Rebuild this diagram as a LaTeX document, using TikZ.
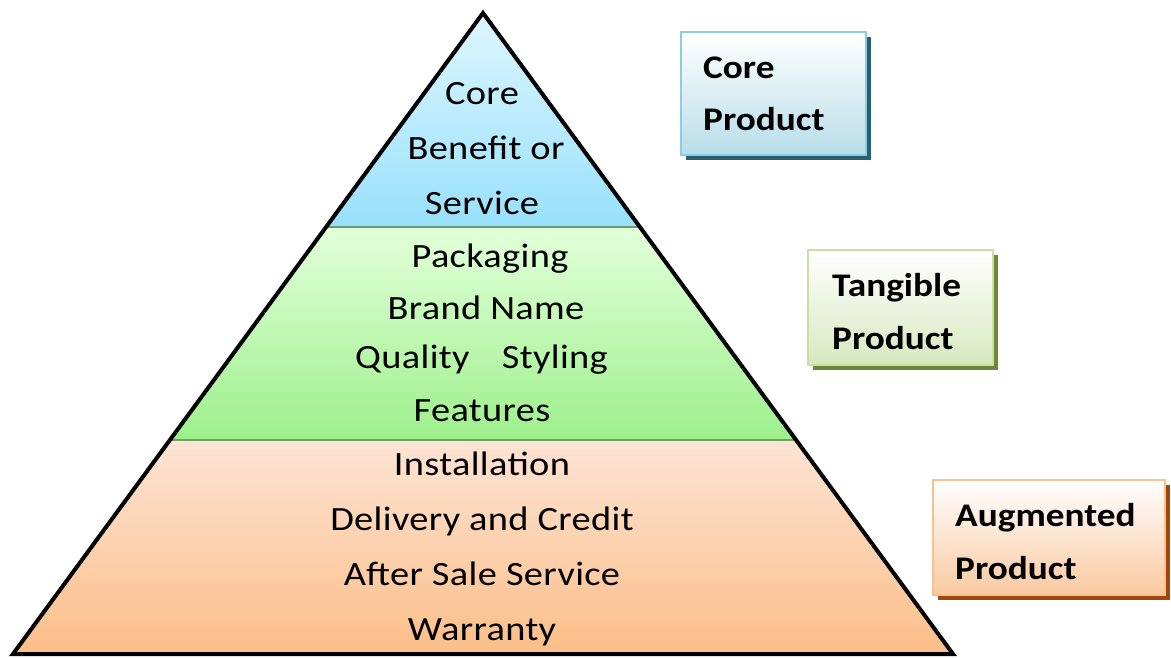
\documentclass[tikz,border=0pt]{standalone}
\usepackage{fontspec}
\setmainfont{Carlito}
\newfontfamily\tierfont[FakeStretch=1.13,LetterSpace=1]{Carlito}
\newfontfamily\boxfont[FakeStretch=1.13]{Carlito}
% tier and box colours
\definecolor{coretop}{RGB}{222,246,255}
\definecolor{corebot}{RGB}{152,224,251}
\definecolor{tantop}{RGB}{226,255,218}
\definecolor{tanbot}{RGB}{158,240,140}
\definecolor{augtop}{RGB}{253,228,212}
\definecolor{augbot}{RGB}{251,190,136}
\definecolor{sepone}{RGB}{110,150,120}
\definecolor{septwo}{RGB}{110,160,100}
\definecolor{coreshadow}{RGB}{40,95,110}
\definecolor{corefill}{RGB}{184,221,232}
\definecolor{coreedge}{RGB}{140,205,224}
\definecolor{tanshadow}{RGB}{110,135,60}
\definecolor{tanfill}{RGB}{215,232,192}
\definecolor{tanedge}{RGB}{200,224,160}
\definecolor{augshadow}{RGB}{160,72,12}
\definecolor{augfill}{RGB}{249,201,160}
\definecolor{augedge}{RGB}{249,192,144}
\begin{document}
\begin{tikzpicture}[x=1pt,y=-1pt,
  tiertext/.style={font=\tierfont\fontsize{34}{40}\selectfont, text=black, inner sep=0pt, anchor=base},
  boxtext/.style={font=\boxfont\fontsize{33}{38}\selectfont\bfseries, text=black, inner sep=0pt, anchor=base west},
  tierline/.style={line width=1.2pt}]
\useasboundingbox (0,0) rectangle (1171,657);
% pyramid corners and band boundaries
\coordinate (apex) at (483,13);
\coordinate (bl) at (13,654);
\coordinate (br) at (953,654);
\coordinate (c1l) at (326.1,227);
\coordinate (c1r) at (639.9,227);
\coordinate (c2l) at (169.9,440);
\coordinate (c2r) at (796.1,440);
% tier fills
\shade[top color=coretop, bottom color=corebot] (apex) -- (c1r) -- (c1l) -- cycle;
\shade[top color=tantop, bottom color=tanbot] (c1l) -- (c1r) -- (c2r) -- (c2l) -- cycle;
\shade[top color=augtop, bottom color=augbot] (c2l) -- (c2r) -- (br) -- (bl) -- cycle;
\draw[tierline, draw=sepone] (c1l) -- (c1r);
\draw[tierline, draw=septwo] (c2l) -- (c2r);
\draw[line width=4pt, line join=miter] (apex) -- (br) -- (bl) -- cycle;
% tier texts
\node[tiertext] (t1) at (482,104) {Core};
\node[tiertext] (t2) at (486,159) {Benefit or};
\node[tiertext] (t3) at (482,214) {Service};
\node[tiertext] (t4) at (490,267) {Packaging};
\node[tiertext] (t5) at (486,319) {Brand Name};
\node[tiertext, anchor=base west] (t6a) at (355,368) {Quality};
\node[tiertext, anchor=base east] (t6b) at (608,368) {Styling};
\node[tiertext] (t7) at (482,421) {Features};
\node[tiertext] (t8) at (482,475) {Installation};
\node[tiertext] (t9) at (482,530) {Delivery and Credit};
\node[tiertext] (t10) at (482,585) {After Sale Service};
\node[tiertext] (t11) at (482,640) {Warranty};
% label boxes with drop shadows
\fill[coreshadow] (686,37) rectangle (871,160);
\shade[top color=white, bottom color=corefill, draw=coreedge, line width=1.5pt] (681,32) rectangle (866,155);
\node[boxtext] (core1) at (703,78) {Core};
\node[boxtext] (core2) at (703,130) {Product};
\fill[tanshadow] (813,255) rectangle (998,370);
\shade[top color=white, bottom color=tanfill, draw=tanedge, line width=1.5pt] (808,250) rectangle (993,365);
\node[boxtext] (tan1) at (832,296) {Tangible};
\node[boxtext] (tan2) at (832,349) {Product};
\fill[augshadow] (938,485) rectangle (1170,600);
\shade[top color=white, bottom color=augfill, draw=augedge, line width=1.5pt] (933,480) rectangle (1165,595);
\node[boxtext] (aug1) at (955,526) {Augmented};
\node[boxtext] (aug2) at (955,579) {Product};
\end{tikzpicture}
\end{document}
